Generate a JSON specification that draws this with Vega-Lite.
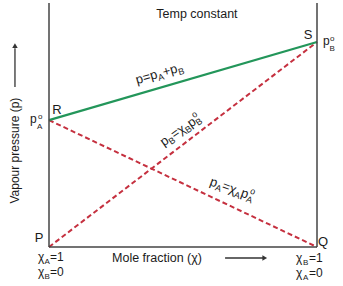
{
"$schema": "https://vega.github.io/schema/vega-lite/v6.json",
"width": 268, "height": 244,
"autosize": "none",
"padding": {"left": 49, "top": 3, "right": 26, "bottom": 39},
"background": "white",
"config": {"view": {"stroke": null}, "text": {"font": "Liberation Sans", "color": "#1b1b1b"}},
"datasets": {
 "lines": [{"series": "p", "x": 0, "y": 0.52}, {"series": "p", "x": 1, "y": 0.84}, {"series": "pA", "x": 0, "y": 0.52}, {"series": "pA", "x": 1, "y": 0}, {"series": "pB", "x": 0, "y": 0}, {"series": "pB", "x": 1, "y": 0.84}],
 "pts": [{"id": "P", "x": 0, "y": 0}, {"id": "Q", "x": 1, "y": 0}, {"id": "R", "x": 0, "y": 0.52}, {"id": "S", "x": 1, "y": 0.84}],
 "anchors": [{"id": "sum", "x": 0.339, "y": 0.628}, {"id": "pB", "x": 0.45, "y": 0.378}, {"id": "pA", "x": 0.584, "y": 0.216}, {"id": "title", "x": 0.552, "y": 0.955}, {"id": "xlab", "x": 0.403, "y": -0.045}, {"id": "ylab", "x": -0.127, "y": 0.395}]
},
"layer": [
 {"data": {"name": "lines"}, "transform": [{"filter": "datum.series!='p'"}], "mark": {"type": "line", "color": "#c5303f", "strokeWidth": 2, "strokeDash": [5, 3]}, "encoding": {"x": {"field": "x", "type": "quantitative", "scale": {"domain": [0, 1], "nice": false, "zero": false}, "axis": null}, "y": {"field": "y", "type": "quantitative", "scale": {"domain": [0, 1], "nice": false, "zero": false}, "axis": null}, "detail": {"field": "series"}}},
 {"data": {"name": "lines"}, "transform": [{"filter": "datum.series=='p'"}], "mark": {"type": "line", "color": "#23965a", "strokeWidth": 2.2}, "encoding": {"x": {"field": "x", "type": "quantitative", "axis": null}, "y": {"field": "y", "type": "quantitative", "axis": null}}},
 {"data": {"values": [{}]}, "mark": {"type": "rule", "color": "#444", "strokeWidth": 1.5}, "encoding": {"x": {"datum": 0, "type": "quantitative", "axis": null}, "y": {"datum": 0, "type": "quantitative", "axis": null}, "y2": {"datum": 1}}},
 {"data": {"values": [{}]}, "mark": {"type": "rule", "color": "#444", "strokeWidth": 1.5}, "encoding": {"x": {"datum": 1, "type": "quantitative", "axis": null}, "y": {"datum": 0, "type": "quantitative", "axis": null}, "y2": {"datum": 1}}},
 {"data": {"values": [{}]}, "mark": {"type": "rule", "color": "#444", "strokeWidth": 1.5}, "encoding": {"x": {"datum": 0, "type": "quantitative", "axis": null}, "x2": {"datum": 1}, "y": {"datum": 0, "type": "quantitative", "axis": null}}},
 {"data": {"values": [{}]}, "mark": {"type": "rule", "color": "#333", "strokeWidth": 1.3}, "encoding": {"x": {"datum": 0.657, "type": "quantitative", "axis": null}, "x2": {"datum": 0.8}, "y": {"datum": -0.045, "type": "quantitative", "axis": null}}},
 {"data": {"values": [{}]}, "mark": {"type": "point", "shape": "triangle-right", "filled": true, "opacity": 1, "size": 30, "color": "#333"}, "encoding": {"x": {"datum": 0.805, "type": "quantitative", "axis": null}, "y": {"datum": -0.045, "type": "quantitative", "axis": null}}},
 {"data": {"values": [{}]}, "mark": {"type": "rule", "color": "#333", "strokeWidth": 1.3}, "encoding": {"x": {"datum": -0.127, "type": "quantitative", "axis": null}, "y": {"datum": 0.656, "type": "quantitative", "axis": null}, "y2": {"datum": 0.815}}},
 {"data": {"values": [{}]}, "mark": {"type": "point", "shape": "triangle-up", "filled": true, "opacity": 1, "size": 30, "color": "#333"}, "encoding": {"x": {"datum": -0.127, "type": "quantitative", "axis": null}, "y": {"datum": 0.825, "type": "quantitative", "axis": null}}},

 {"data": {"name": "anchors"}, "transform": [{"filter": "datum.id=='sum'"}], "mark": {"type": "text", "fontSize": 13, "angle": 344, "align": "left", "baseline": "alphabetic", "dx": 0, "dy": -10}, "encoding": {"x": {"field": "x", "type": "quantitative", "axis": null}, "y": {"field": "y", "type": "quantitative", "axis": null}, "text": {"value": "p=p"}}},
 {"data": {"name": "anchors"}, "transform": [{"filter": "datum.id=='sum'"}], "mark": {"type": "text", "fontSize": 9, "angle": 344, "align": "left", "baseline": "alphabetic", "dx": 22, "dy": -7}, "encoding": {"x": {"field": "x", "type": "quantitative", "axis": null}, "y": {"field": "y", "type": "quantitative", "axis": null}, "text": {"value": "A"}}},
 {"data": {"name": "anchors"}, "transform": [{"filter": "datum.id=='sum'"}], "mark": {"type": "text", "fontSize": 13, "angle": 344, "align": "left", "baseline": "alphabetic", "dx": 28, "dy": -10}, "encoding": {"x": {"field": "x", "type": "quantitative", "axis": null}, "y": {"field": "y", "type": "quantitative", "axis": null}, "text": {"value": "+p"}}},
 {"data": {"name": "anchors"}, "transform": [{"filter": "datum.id=='sum'"}], "mark": {"type": "text", "fontSize": 9, "angle": 344, "align": "left", "baseline": "alphabetic", "dx": 43, "dy": -7}, "encoding": {"x": {"field": "x", "type": "quantitative", "axis": null}, "y": {"field": "y", "type": "quantitative", "axis": null}, "text": {"value": "B"}}},

 {"data": {"name": "anchors"}, "transform": [{"filter": "datum.id=='pB'"}], "mark": {"type": "text", "fontSize": 13, "angle": 325, "align": "left", "baseline": "alphabetic", "dx": 0, "dy": -10}, "encoding": {"x": {"field": "x", "type": "quantitative", "axis": null}, "y": {"field": "y", "type": "quantitative", "axis": null}, "text": {"value": "p"}}},
 {"data": {"name": "anchors"}, "transform": [{"filter": "datum.id=='pB'"}], "mark": {"type": "text", "fontSize": 9, "angle": 325, "align": "left", "baseline": "alphabetic", "dx": 7, "dy": -7}, "encoding": {"x": {"field": "x", "type": "quantitative", "axis": null}, "y": {"field": "y", "type": "quantitative", "axis": null}, "text": {"value": "B"}}},
 {"data": {"name": "anchors"}, "transform": [{"filter": "datum.id=='pB'"}], "mark": {"type": "text", "fontSize": 13, "angle": 325, "align": "left", "baseline": "alphabetic", "dx": 13, "dy": -10}, "encoding": {"x": {"field": "x", "type": "quantitative", "axis": null}, "y": {"field": "y", "type": "quantitative", "axis": null}, "text": {"value": "=χ"}}},
 {"data": {"name": "anchors"}, "transform": [{"filter": "datum.id=='pB'"}], "mark": {"type": "text", "fontSize": 9, "angle": 325, "align": "left", "baseline": "alphabetic", "dx": 27, "dy": -7}, "encoding": {"x": {"field": "x", "type": "quantitative", "axis": null}, "y": {"field": "y", "type": "quantitative", "axis": null}, "text": {"value": "B"}}},
 {"data": {"name": "anchors"}, "transform": [{"filter": "datum.id=='pB'"}], "mark": {"type": "text", "fontSize": 13, "angle": 325, "align": "left", "baseline": "alphabetic", "dx": 33, "dy": -10}, "encoding": {"x": {"field": "x", "type": "quantitative", "axis": null}, "y": {"field": "y", "type": "quantitative", "axis": null}, "text": {"value": "p"}}},
 {"data": {"name": "anchors"}, "transform": [{"filter": "datum.id=='pB'"}], "mark": {"type": "text", "fontSize": 9, "angle": 325, "align": "left", "baseline": "alphabetic", "dx": 40, "dy": -7}, "encoding": {"x": {"field": "x", "type": "quantitative", "axis": null}, "y": {"field": "y", "type": "quantitative", "axis": null}, "text": {"value": "B"}}},
 {"data": {"name": "anchors"}, "transform": [{"filter": "datum.id=='pB'"}], "mark": {"type": "text", "fontSize": 9, "angle": 325, "align": "left", "baseline": "alphabetic", "dx": 41, "dy": -16}, "encoding": {"x": {"field": "x", "type": "quantitative", "axis": null}, "y": {"field": "y", "type": "quantitative", "axis": null}, "text": {"value": "o"}}},

 {"data": {"name": "anchors"}, "transform": [{"filter": "datum.id=='pA'"}], "mark": {"type": "text", "fontSize": 13, "angle": 20, "align": "left", "baseline": "alphabetic", "dx": 0, "dy": -10}, "encoding": {"x": {"field": "x", "type": "quantitative", "axis": null}, "y": {"field": "y", "type": "quantitative", "axis": null}, "text": {"value": "p"}}},
 {"data": {"name": "anchors"}, "transform": [{"filter": "datum.id=='pA'"}], "mark": {"type": "text", "fontSize": 9, "angle": 20, "align": "left", "baseline": "alphabetic", "dx": 7, "dy": -7}, "encoding": {"x": {"field": "x", "type": "quantitative", "axis": null}, "y": {"field": "y", "type": "quantitative", "axis": null}, "text": {"value": "A"}}},
 {"data": {"name": "anchors"}, "transform": [{"filter": "datum.id=='pA'"}], "mark": {"type": "text", "fontSize": 13, "angle": 20, "align": "left", "baseline": "alphabetic", "dx": 13, "dy": -10}, "encoding": {"x": {"field": "x", "type": "quantitative", "axis": null}, "y": {"field": "y", "type": "quantitative", "axis": null}, "text": {"value": "=χ"}}},
 {"data": {"name": "anchors"}, "transform": [{"filter": "datum.id=='pA'"}], "mark": {"type": "text", "fontSize": 9, "angle": 20, "align": "left", "baseline": "alphabetic", "dx": 27, "dy": -7}, "encoding": {"x": {"field": "x", "type": "quantitative", "axis": null}, "y": {"field": "y", "type": "quantitative", "axis": null}, "text": {"value": "A"}}},
 {"data": {"name": "anchors"}, "transform": [{"filter": "datum.id=='pA'"}], "mark": {"type": "text", "fontSize": 13, "angle": 20, "align": "left", "baseline": "alphabetic", "dx": 33, "dy": -10}, "encoding": {"x": {"field": "x", "type": "quantitative", "axis": null}, "y": {"field": "y", "type": "quantitative", "axis": null}, "text": {"value": "p"}}},
 {"data": {"name": "anchors"}, "transform": [{"filter": "datum.id=='pA'"}], "mark": {"type": "text", "fontSize": 9, "angle": 20, "align": "left", "baseline": "alphabetic", "dx": 40, "dy": -7}, "encoding": {"x": {"field": "x", "type": "quantitative", "axis": null}, "y": {"field": "y", "type": "quantitative", "axis": null}, "text": {"value": "A"}}},
 {"data": {"name": "anchors"}, "transform": [{"filter": "datum.id=='pA'"}], "mark": {"type": "text", "fontSize": 9, "angle": 20, "align": "left", "baseline": "alphabetic", "dx": 41, "dy": -16}, "encoding": {"x": {"field": "x", "type": "quantitative", "axis": null}, "y": {"field": "y", "type": "quantitative", "axis": null}, "text": {"value": "o"}}},

 {"data": {"name": "anchors"}, "transform": [{"filter": "datum.id=='title'"}], "mark": {"type": "text", "fontSize": 12.5, "align": "center", "baseline": "middle"}, "encoding": {"x": {"field": "x", "type": "quantitative", "axis": null}, "y": {"field": "y", "type": "quantitative", "axis": null}, "text": {"value": "Temp constant"}}},
 {"data": {"name": "anchors"}, "transform": [{"filter": "datum.id=='xlab'"}], "mark": {"type": "text", "fontSize": 12.5, "align": "center", "baseline": "middle"}, "encoding": {"x": {"field": "x", "type": "quantitative", "axis": null}, "y": {"field": "y", "type": "quantitative", "axis": null}, "text": {"value": "Mole fraction (χ)"}}},
 {"data": {"name": "anchors"}, "transform": [{"filter": "datum.id=='ylab'"}], "mark": {"type": "text", "fontSize": 12, "angle": 270, "align": "center", "baseline": "middle"}, "encoding": {"x": {"field": "x", "type": "quantitative", "axis": null}, "y": {"field": "y", "type": "quantitative", "axis": null}, "text": {"value": "Vapour pressure (p)"}}},

 {"data": {"name": "pts"}, "transform": [{"filter": "datum.id=='R'"}], "mark": {"type": "text", "fontSize": 13, "align": "center", "baseline": "middle", "dx": 8, "dy": -10}, "encoding": {"x": {"field": "x", "type": "quantitative", "axis": null}, "y": {"field": "y", "type": "quantitative", "axis": null}, "text": {"field": "id"}}},
 {"data": {"name": "pts"}, "transform": [{"filter": "datum.id=='S'"}], "mark": {"type": "text", "fontSize": 13, "align": "center", "baseline": "middle", "dx": -9, "dy": -7}, "encoding": {"x": {"field": "x", "type": "quantitative", "axis": null}, "y": {"field": "y", "type": "quantitative", "axis": null}, "text": {"field": "id"}}},
 {"data": {"name": "pts"}, "transform": [{"filter": "datum.id=='P'"}], "mark": {"type": "text", "fontSize": 13, "align": "center", "baseline": "middle", "dx": -10, "dy": -9}, "encoding": {"x": {"field": "x", "type": "quantitative", "axis": null}, "y": {"field": "y", "type": "quantitative", "axis": null}, "text": {"field": "id"}}},
 {"data": {"name": "pts"}, "transform": [{"filter": "datum.id=='Q'"}], "mark": {"type": "text", "fontSize": 13, "align": "center", "baseline": "middle", "dx": 6, "dy": -5}, "encoding": {"x": {"field": "x", "type": "quantitative", "axis": null}, "y": {"field": "y", "type": "quantitative", "axis": null}, "text": {"field": "id"}}},

 {"data": {"name": "pts"}, "transform": [{"filter": "datum.id=='R'"}], "mark": {"type": "text", "fontSize": 12, "align": "left", "baseline": "alphabetic", "dx": -19, "dy": 3}, "encoding": {"x": {"field": "x", "type": "quantitative", "axis": null}, "y": {"field": "y", "type": "quantitative", "axis": null}, "text": {"value": "p"}}},
 {"data": {"name": "pts"}, "transform": [{"filter": "datum.id=='R'"}], "mark": {"type": "text", "fontSize": 8, "align": "left", "baseline": "alphabetic", "dx": -12, "dy": 9}, "encoding": {"x": {"field": "x", "type": "quantitative", "axis": null}, "y": {"field": "y", "type": "quantitative", "axis": null}, "text": {"value": "A"}}},
 {"data": {"name": "pts"}, "transform": [{"filter": "datum.id=='R'"}], "mark": {"type": "text", "fontSize": 8, "align": "left", "baseline": "alphabetic", "dx": -11, "dy": -1}, "encoding": {"x": {"field": "x", "type": "quantitative", "axis": null}, "y": {"field": "y", "type": "quantitative", "axis": null}, "text": {"value": "o"}}},
 {"data": {"name": "pts"}, "transform": [{"filter": "datum.id=='S'"}], "mark": {"type": "text", "fontSize": 12, "align": "left", "baseline": "alphabetic", "dx": 6, "dy": 3}, "encoding": {"x": {"field": "x", "type": "quantitative", "axis": null}, "y": {"field": "y", "type": "quantitative", "axis": null}, "text": {"value": "p"}}},
 {"data": {"name": "pts"}, "transform": [{"filter": "datum.id=='S'"}], "mark": {"type": "text", "fontSize": 8, "align": "left", "baseline": "alphabetic", "dx": 12.5, "dy": 9}, "encoding": {"x": {"field": "x", "type": "quantitative", "axis": null}, "y": {"field": "y", "type": "quantitative", "axis": null}, "text": {"value": "B"}}},
 {"data": {"name": "pts"}, "transform": [{"filter": "datum.id=='S'"}], "mark": {"type": "text", "fontSize": 8, "align": "left", "baseline": "alphabetic", "dx": 13, "dy": -1}, "encoding": {"x": {"field": "x", "type": "quantitative", "axis": null}, "y": {"field": "y", "type": "quantitative", "axis": null}, "text": {"value": "o"}}},

 {"data": {"name": "pts"}, "transform": [{"filter": "datum.id=='P'"}], "mark": {"type": "text", "fontSize": 12, "align": "left", "baseline": "alphabetic", "dx": -11, "dy": 14}, "encoding": {"x": {"field": "x", "type": "quantitative", "axis": null}, "y": {"field": "y", "type": "quantitative", "axis": null}, "text": {"value": "χ"}}},
 {"data": {"name": "pts"}, "transform": [{"filter": "datum.id=='P'"}], "mark": {"type": "text", "fontSize": 8, "align": "left", "baseline": "alphabetic", "dx": -4.5, "dy": 17}, "encoding": {"x": {"field": "x", "type": "quantitative", "axis": null}, "y": {"field": "y", "type": "quantitative", "axis": null}, "text": {"value": "A"}}},
 {"data": {"name": "pts"}, "transform": [{"filter": "datum.id=='P'"}], "mark": {"type": "text", "fontSize": 12, "align": "left", "baseline": "alphabetic", "dx": 1, "dy": 14}, "encoding": {"x": {"field": "x", "type": "quantitative", "axis": null}, "y": {"field": "y", "type": "quantitative", "axis": null}, "text": {"value": "=1"}}},
 {"data": {"name": "pts"}, "transform": [{"filter": "datum.id=='P'"}], "mark": {"type": "text", "fontSize": 12, "align": "left", "baseline": "alphabetic", "dx": -11, "dy": 29}, "encoding": {"x": {"field": "x", "type": "quantitative", "axis": null}, "y": {"field": "y", "type": "quantitative", "axis": null}, "text": {"value": "χ"}}},
 {"data": {"name": "pts"}, "transform": [{"filter": "datum.id=='P'"}], "mark": {"type": "text", "fontSize": 8, "align": "left", "baseline": "alphabetic", "dx": -4.5, "dy": 32}, "encoding": {"x": {"field": "x", "type": "quantitative", "axis": null}, "y": {"field": "y", "type": "quantitative", "axis": null}, "text": {"value": "B"}}},
 {"data": {"name": "pts"}, "transform": [{"filter": "datum.id=='P'"}], "mark": {"type": "text", "fontSize": 12, "align": "left", "baseline": "alphabetic", "dx": 1, "dy": 29}, "encoding": {"x": {"field": "x", "type": "quantitative", "axis": null}, "y": {"field": "y", "type": "quantitative", "axis": null}, "text": {"value": "=0"}}},

 {"data": {"name": "pts"}, "transform": [{"filter": "datum.id=='Q'"}], "mark": {"type": "text", "fontSize": 12, "align": "left", "baseline": "alphabetic", "dx": -21, "dy": 15}, "encoding": {"x": {"field": "x", "type": "quantitative", "axis": null}, "y": {"field": "y", "type": "quantitative", "axis": null}, "text": {"value": "χ"}}},
 {"data": {"name": "pts"}, "transform": [{"filter": "datum.id=='Q'"}], "mark": {"type": "text", "fontSize": 8, "align": "left", "baseline": "alphabetic", "dx": -14, "dy": 18}, "encoding": {"x": {"field": "x", "type": "quantitative", "axis": null}, "y": {"field": "y", "type": "quantitative", "axis": null}, "text": {"value": "B"}}},
 {"data": {"name": "pts"}, "transform": [{"filter": "datum.id=='Q'"}], "mark": {"type": "text", "fontSize": 12, "align": "left", "baseline": "alphabetic", "dx": -8, "dy": 15}, "encoding": {"x": {"field": "x", "type": "quantitative", "axis": null}, "y": {"field": "y", "type": "quantitative", "axis": null}, "text": {"value": "=1"}}},
 {"data": {"name": "pts"}, "transform": [{"filter": "datum.id=='Q'"}], "mark": {"type": "text", "fontSize": 12, "align": "left", "baseline": "alphabetic", "dx": -21, "dy": 30}, "encoding": {"x": {"field": "x", "type": "quantitative", "axis": null}, "y": {"field": "y", "type": "quantitative", "axis": null}, "text": {"value": "χ"}}},
 {"data": {"name": "pts"}, "transform": [{"filter": "datum.id=='Q'"}], "mark": {"type": "text", "fontSize": 8, "align": "left", "baseline": "alphabetic", "dx": -14, "dy": 33}, "encoding": {"x": {"field": "x", "type": "quantitative", "axis": null}, "y": {"field": "y", "type": "quantitative", "axis": null}, "text": {"value": "A"}}},
 {"data": {"name": "pts"}, "transform": [{"filter": "datum.id=='Q'"}], "mark": {"type": "text", "fontSize": 12, "align": "left", "baseline": "alphabetic", "dx": -8, "dy": 30}, "encoding": {"x": {"field": "x", "type": "quantitative", "axis": null}, "y": {"field": "y", "type": "quantitative", "axis": null}, "text": {"value": "=0"}}}
]
}
